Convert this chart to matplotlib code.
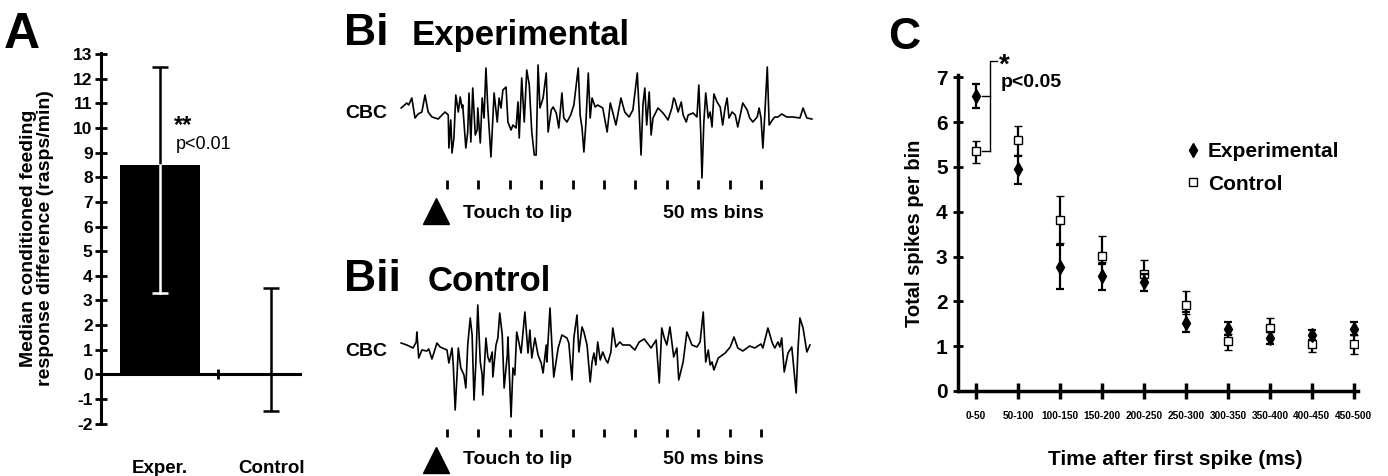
import numpy as np
import matplotlib.pyplot as plt
from matplotlib import font_manager
from matplotlib.lines import Line2D

plt.rcParams['font.family'] = ['Liberation Sans', 'DejaVu Sans']
plt.rcParams['font.weight'] = 'bold'
plt.rcParams['axes.labelweight'] = 'bold'
plt.rcParams['axes.unicode_minus'] = False

W, H = 1388, 476

# ---- Panel A: median conditioned feeding response difference
groups = ['Exper.', 'Control']
median_diff = [8.5, 0.0]
err_low = [3.3, -1.5]
err_high = [12.5, 3.5]

# ---- Panel B: CBC recordings (time in ms after touch, amplitude in arbitrary units)
exp_t = [-73, -64, -61, -56, -51, -46, -40, -35, -30, -24, -14, -8, -3, 2, 3, 6, 8, 11, 14, 18,
         21, 24, 25, 30, 33, 35, 38, 41, 45, 48, 49, 53, 56, 59, 62, 65, 70, 75, 80, 83,
         86, 89, 94, 97, 102, 105, 110, 113, 115, 119, 123, 127, 131, 135, 139, 142, 145, 148, 153, 158,
         161, 166, 169, 174, 178, 183, 186, 191, 197, 202, 209, 212, 215, 218, 221, 225, 228, 231, 236, 240,
         248, 255, 260, 263, 269, 277, 283, 290, 296, 303, 306, 309, 312, 315, 318, 322, 325, 328, 336, 344,
         352, 358, 361, 363, 368, 373, 376, 381, 384, 392, 398, 401, 404, 406, 409, 412, 416, 419, 422, 425,
         430, 435, 439, 443, 446, 449, 454, 459, 463, 467, 471, 478, 482, 487, 494, 497, 500, 503, 506, 510,
         513, 518, 522, 527, 533, 541, 551, 562, 567, 573, 581]
exp_v = [7, 12, 10, 17, -3, 1, 3, 20, 3, -2, -4, 0, 3, 0, -33, -5, -38, -23, 20, 3,
         18, 7, 10, -33, -17, 22, -27, 27, -20, -15, 7, -28, 17, -3, 47, 7, -42, 22, -7, 17,
         7, 25, 28, -7, -15, -10, -13, 13, -23, 37, -7, 45, 30, -17, -40, -40, 50, 7, 17, 42,
         -17, 5, 8, 2, -13, 22, -3, -7, 0, 10, 47, 0, -13, -37, -10, 42, -3, 17, 8, 10,
         7, -17, 12, 5, -10, 17, 3, -2, 5, 42, 3, -40, 10, 27, -10, 23, -20, -3, 7, 2,
         -5, 7, 17, 15, 3, 13, 0, -7, 0, 2, -2, 30, -17, -63, -7, 22, -3, 3, -12, 21,
         13, 8, -10, 8, 17, -3, 3, 0, -12, 0, 12, 5, -3, -7, -2, 7, -3, -33, 0, 48,
         -10, -5, -2, -2, 1, -2, -2, -3, 7, -3, -4]
ctl_t = [-73, -64, -54, -49, -48, -45, -40, -32, -29, -24, -21, -16, -11, 0, 3, 8, 10, 13, 16, 18,
         22, 27, 30, 33, 37, 40, 43, 46, 49, 53, 56, 57, 62, 65, 68, 72, 73, 78, 81, 84,
         88, 91, 96, 97, 102, 105, 108, 111, 118, 124, 129, 132, 135, 140, 145, 150, 153, 158, 159, 164,
         167, 170, 177, 183, 191, 194, 199, 202, 207, 210, 215, 218, 223, 228, 231, 234, 237, 240, 244, 248,
         253, 256, 261, 264, 269, 275, 280, 291, 299, 306, 314, 325, 333, 338, 342, 346, 350, 355, 361, 366,
         369, 376, 382, 390, 398, 403, 408, 412, 416, 419, 422, 425, 432, 443, 451, 457, 463, 471, 482, 490,
         500, 503, 511, 518, 522, 527, 530, 533, 537, 543, 549, 556, 559, 562, 567, 573, 578]
ctl_v = [5, 3, 0, 6, 16, -10, -2, -3, -1, -11, -5, 5, 1, -2, -15, 0, -17, -62, -27, 0,
         -20, -27, -40, 3, 30, 13, -52, -14, 43, -14, -27, -47, 10, -9, -14, -4, -29, 3, 10, 35,
         13, -40, -7, 11, -69, -20, -27, 16, -5, 36, -5, 18, -10, 10, -7, -15, -25, 3, -14, 40,
         3, -29, 0, 13, 10, 5, -32, 10, 33, -4, 21, 16, 3, -34, -14, -5, -17, 6, -12, -4,
         -12, -15, -4, 20, 1, 6, 3, 3, -2, 6, 9, 0, 8, -35, 20, 10, 3, 21, -9, 0,
         -32, -14, 16, 3, 1, 6, 36, -14, -2, -17, -14, -22, -10, -5, 1, 11, 0, -3, 2, 0,
         4, 0, 20, 5, 0, 6, 1, 10, -24, -5, 1, -45, 0, 30, 20, -4, 3]
bin_edges = [0, 50, 100, 150, 200, 250, 300, 350, 400, 450, 500]

# ---- Panel C: total spikes per bin
bins = ['0-50', '50-100', '100-150', '150-200', '200-250',
        '250-300', '300-350', '350-400', '400-450', '450-500']
exp_mean = [6.59, 4.96, 2.76, 2.56, 2.44, 1.52, 1.39, 1.19, 1.24, 1.39]
exp_lo = [6.31, 4.62, 2.28, 2.26, 2.24, 1.31, 1.24, 1.05, 1.13, 1.24]
exp_hi = [6.86, 5.25, 3.25, 2.84, 2.62, 1.76, 1.54, 1.31, 1.37, 1.54]
ctl_mean = [5.35, 5.59, 3.82, 3.02, 2.60, 1.92, 1.11, 1.41, 1.05, 1.05]
ctl_lo = [5.09, 5.27, 3.30, 2.88, 2.43, 1.72, 0.92, 1.19, 0.87, 0.83]
ctl_hi = [5.57, 5.91, 4.34, 3.45, 2.93, 2.24, 1.28, 1.63, 1.24, 1.24]


def px_axes(fig, x0, y0, x1, y1):
    # axes placed by pixel box (top-left origin)
    return fig.add_axes([x0 / W, 1 - y1 / H, (x1 - x0) / W, (y1 - y0) / H])


def fig_text(fig, x, y, s, **kw):
    fig.text(x / W, 1 - y / H, s, **kw)


fig = plt.figure(figsize=(W / 100, H / 100), dpi=100)

# ================= Panel A =================
axA = px_axes(fig, 101, 53, 300, 424)
xA = np.arange(len(groups))
axA.bar(xA[0], median_diff[0], width=0.72, color='black', zorder=2)
lo = [m - l for m, l in zip(median_diff, err_low)]
hi = [h - m for m, h in zip(median_diff, err_high)]
axA.errorbar(xA, median_diff, yerr=[lo, hi], fmt='none', ecolor='black',
             elinewidth=1.8, capsize=6, capthick=1.8, zorder=3)
# part of the error bar inside the black bar is drawn white
axA.plot([xA[0], xA[0]], [err_low[0], median_diff[0]], color='white', lw=1.8, zorder=4)
axA.plot(xA[0], err_low[0], marker='_', ms=12, mew=1.8, color='white', zorder=4)

axA.set_xlim(-0.53, 1.26)
axA.set_ylim(-2.02, 13.05)
axA.spines['bottom'].set_position(('data', 0))
axA.spines['top'].set_visible(False)
axA.spines['right'].set_visible(False)
for s in ['left', 'bottom']:
    axA.spines[s].set_linewidth(2.2)
axA.set_yticks(range(-2, 14))
axA.set_xticks([0.52])
axA.set_xticklabels([''])
axA.tick_params(axis='y', direction='inout', length=8, width=2, labelsize=12.5, pad=2)
axA.tick_params(axis='x', direction='inout', length=7, width=2)
for i, g in enumerate(groups):
    axA.text(xA[i], -3.82, g, ha='center', va='center', fontsize=13.5, clip_on=False)
axA.set_ylabel('Median conditioned feeding\nresponse difference (rasps/min)', fontsize=14,
               linespacing=1.05)
axA.yaxis.set_label_coords(-0.235, 0.5)
axA.text(0.13, 10.1, '**', fontsize=17, ha='left', va='center')
axA.text(0.14, 9.35, 'p<0.01', fontsize=13, fontweight='normal', ha='left', va='center')
fig_text(fig, 4, 48, 'A', fontsize=36, va='baseline')

# ================= Panel B =================
def draw_trace(box, t, v, ylims, tick_rng, tri_y, txt_y):
    ax = px_axes(fig, *box)
    ax.plot(t, v, color='black', lw=1.2)
    ax.vlines(bin_edges, tick_rng[0], tick_rng[1], color='black', lw=2)
    ax.plot([-17], [tri_y], marker='^', ms=19, color='black', clip_on=False)
    ax.text(25, txt_y, 'Touch to lip', fontsize=14, ha='left', va='center')
    ax.text(344, txt_y, '50 ms bins', fontsize=14, ha='left', va='center')
    ax.set_xlim((395 - 447) * 50 / 31.4, (815 - 447) * 50 / 31.4)
    ax.set_ylim(*ylims)
    ax.axis('off')
    return ax


draw_trace((395, 55, 815, 235), exp_t, exp_v, (-120, 60), (-74, -65), -96, -98)
fig_text(fig, 344, 45, 'Bi', fontsize=32, va='baseline')
fig_text(fig, 412, 45, 'Experimental', fontsize=25, va='baseline')
fig_text(fig, 345, 113.5, 'CBC', fontsize=14, va='center')

draw_trace((395, 295, 815, 476), ctl_t, ctl_v, (-128, 53), (-89, -81), -112, -111)
fig_text(fig, 344, 291, 'Bii', fontsize=32, va='baseline')
fig_text(fig, 428, 291, 'Control', fontsize=25, va='baseline')
fig_text(fig, 345, 352, 'CBC', fontsize=14, va='center')

# ================= Panel C =================
axC = px_axes(fig, 958, 75, 1358, 391)
xC = np.arange(len(bins))
axC.errorbar(xC, ctl_mean,
             yerr=[np.subtract(ctl_mean, ctl_lo), np.subtract(ctl_hi, ctl_mean)],
             fmt='s', ms=5.5, mfc='white', mec='black', mew=1, ecolor='black',
             elinewidth=1.6, capsize=3, capthick=1.6, zorder=3)
axC.errorbar(xC, exp_mean,
             yerr=[np.subtract(exp_mean, exp_lo), np.subtract(exp_hi, exp_mean)],
             fmt='d', ms=7.6, color='black', ecolor='black',
             elinewidth=1.6, capsize=3, capthick=1.6, zorder=4)
axC.set_xlim(-0.43, 9.1)
axC.set_ylim(0, 7.05)
axC.spines['top'].set_visible(False)
axC.spines['right'].set_visible(False)
for s in ['left', 'bottom']:
    axC.spines[s].set_linewidth(2.5)
axC.set_yticks(range(0, 8))
axC.set_xticks(xC)
names = {f.name for f in font_manager.fontManager.ttflist}
if 'Liberation Sans Narrow' in names:
    axC.set_xticklabels(bins, family='Liberation Sans Narrow', fontsize=8.8)
else:
    axC.set_xticklabels(bins, fontsize=7.3)
axC.tick_params(axis='y', direction='inout', length=7, width=2, labelsize=15, pad=4)
axC.tick_params(axis='x', direction='inout', length=11, width=2.5, pad=9)
axC.set_ylabel('Total spikes per bin', fontsize=14.5)
axC.yaxis.set_label_coords(-0.085, 0.5)
axC.set_xlabel('Time after first spike (ms)', fontsize=15)
axC.xaxis.set_label_coords(0.5425, -0.187)

# significance bracket between first-bin means
bx = 0.33
axC.plot([0.15, bx], [exp_mean[0], exp_mean[0]], color='black', lw=1, clip_on=False)
axC.plot([0.15, bx], [ctl_mean[0], ctl_mean[0]], color='black', lw=1, clip_on=False)
axC.plot([bx, bx, 0.5], [ctl_mean[0], 7.37, 7.37], color='black', lw=1, clip_on=False)
axC.text(0.55, 7.25, '*', fontsize=20, ha='left', va='center')
axC.text(0.58, 6.88, 'p<0.05', fontsize=14, ha='left', va='center')

handles = [Line2D([], [], ls='none', marker='d', ms=7.6, color='black'),
           Line2D([], [], ls='none', marker='s', ms=5.5, mfc='white', mec='black', mew=1)]
axC.legend(handles, ['Experimental', 'Control'], loc='upper left',
           bbox_to_anchor=(0.5675, 0.788), frameon=False, fontsize=15,
           handlelength=0.8, handletextpad=0.3, labelspacing=0.65,
           borderpad=0, borderaxespad=0)
fig_text(fig, 888, 49, 'C', fontsize=32, va='baseline')

fig.savefig('out.png', dpi=100)
